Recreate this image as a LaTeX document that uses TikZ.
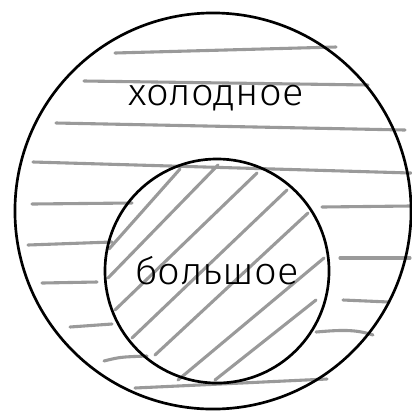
\documentclass[tikz,border=0pt]{standalone}
\usepackage{fontspec}
\setmainfont{Fira Sans Light}
\usepackage{xcolor}
\usepackage{tikz}
\usetikzlibrary{positioning}

\definecolor{hatchgray}{HTML}{9A9A9A}

\begin{document}
\begin{tikzpicture}[
    x=0.025cm, y=-0.025cm,
    ring/.style={draw=black, circle, line width=1.9pt, inner sep=0pt, outer sep=0pt},
    stroke/.style={hatchgray, line width=2.2pt, line cap=round},
    label/.style={font=\fontsize{27}{31}\selectfont, inner sep=0pt, xscale=1.05}
]
    \useasboundingbox (0,0) rectangle (412,410);
    % horizontal strokes in the ring
    \foreach \xa/\ya/\xb/\yb in {115/53/336/47, 84/81/368/85, 56/123/405/130,
        33/162/411/173, 32/204/132/203, 322/207/410/206, 28/245/112/242,
        42/283/97/282, 70/327/112/324, 135/388/327/379, 340/258/410/258,
        343/300/389/302} {
        \draw[stroke] (\xa,\ya) -- (\xb,\yb);
    }
    \draw[stroke] (104,361) .. controls (120,357) .. (147,356);
    \draw[stroke] (316,332) .. controls (340,330) and (355,329) .. (373,335);
    % diagonal hatching in the inner circle
    \foreach \xa/\ya/\xb/\yb in {109/249/180/169, 108/278/218/165, 115/310/257/173,
        132/338/287/190, 155/355/308/213, 178/380/324/258, 215/380/316/300} {
        \draw[stroke] (\xa,\ya) -- (\xb,\yb);
    }
    % circles
    \node[ring, minimum size=9.9cm] (cold) at (213,211) {};
    \node[ring, minimum size=5.6cm] (big) at (217,271) {};
    \node[label] (coldtxt) at (216,98) {холодное};
    \node[label] (bigtxt) at (217,271) {большое};
\end{tikzpicture}
\end{document}
